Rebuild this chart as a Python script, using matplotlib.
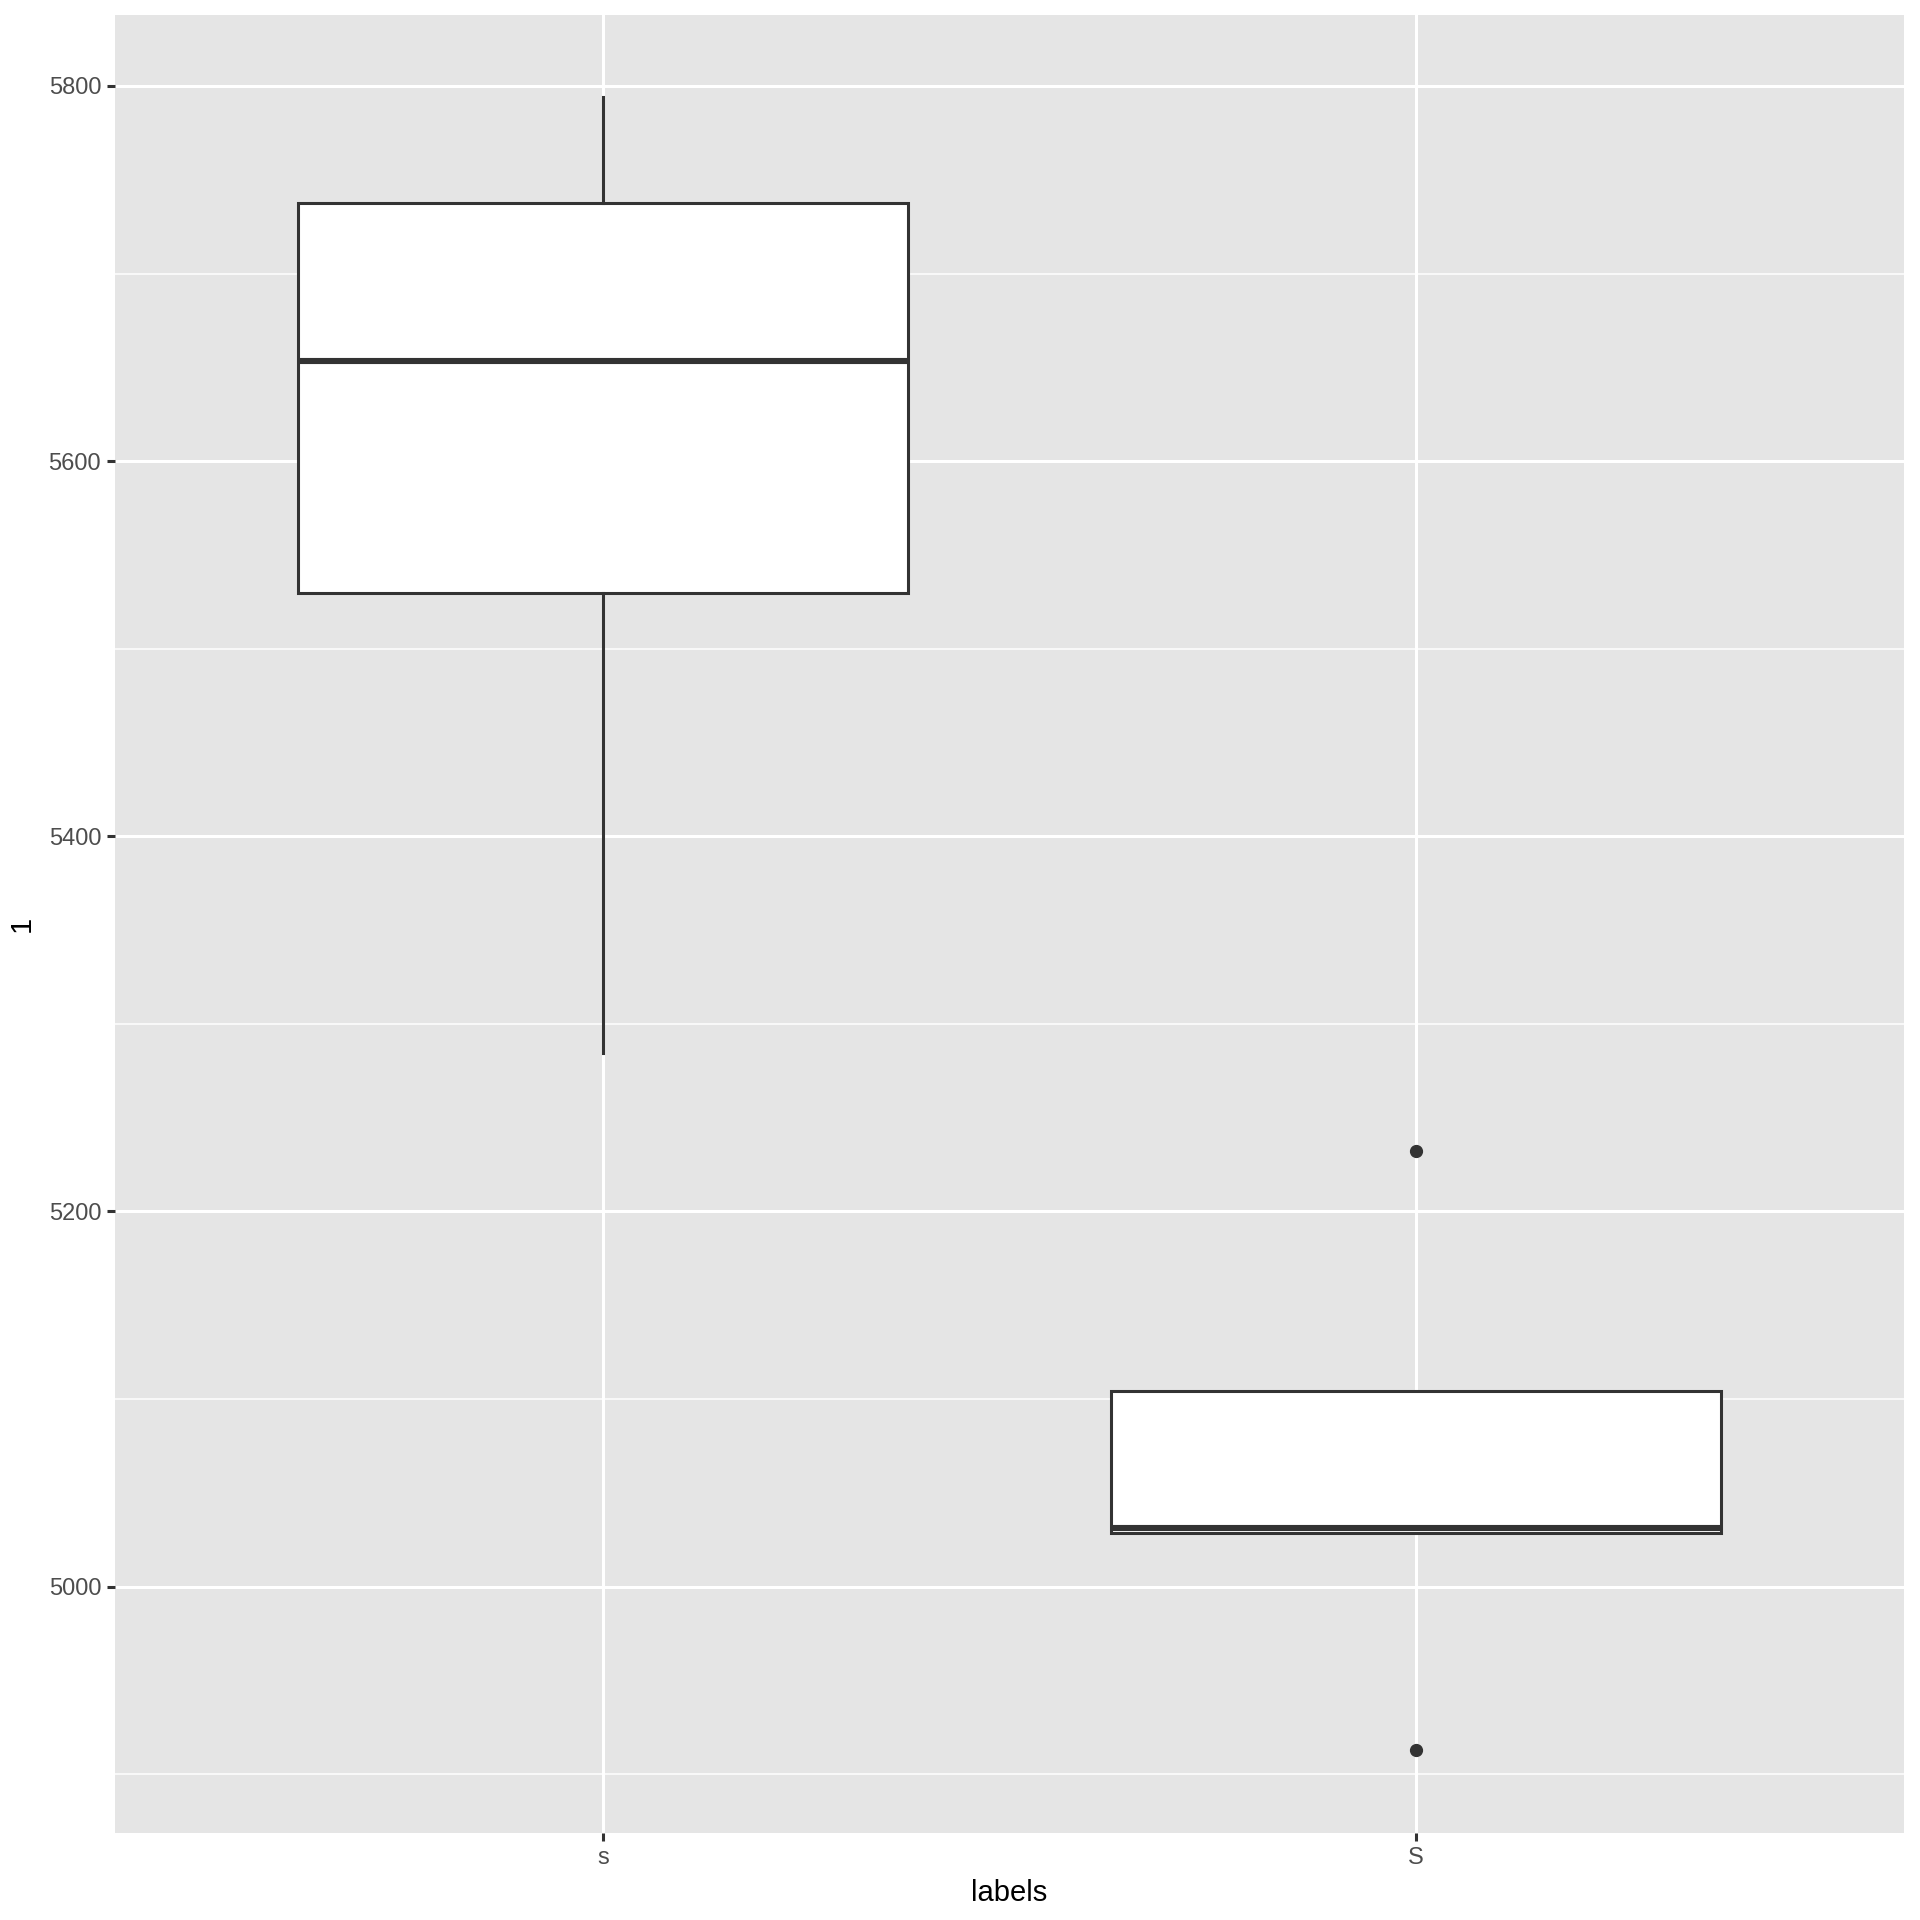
import matplotlib
matplotlib.use("Agg")
import matplotlib.pyplot as plt

# box statistics
categories = ["s", "S"]
whisker_low = [5284.5, 5028.8]
q1 = [5529.9, 5028.8]
median = [5653.6, 5031.4]
q3 = [5737.8, 5104.5]
whisker_high = [5794.0, 5104.5]
outliers = [[], [5232.3, 4913.0]]

y_ticks = [5000, 5200, 5400, 5600, 5800]
y_minor = [4900, 5100, 5300, 5500, 5700]

plt.rcParams["font.family"] = ["Liberation Sans", "DejaVu Sans"]

fig = plt.figure(figsize=(19.2, 19.2), dpi=100)
W = H = 1920
ax = fig.add_axes([115 / W, 1 - 1833 / H, (1904 - 115) / W, (1833 - 15) / H])
ax.set_facecolor("#E5E5E5")
for sp in ax.spines.values():
    sp.set_visible(False)

stats = []
for i, name in enumerate(categories):
    stats.append(dict(label=name, whislo=whisker_low[i], q1=q1[i], med=median[i],
                      q3=q3[i], whishi=whisker_high[i], fliers=outliers[i]))

positions = list(range(1, len(categories) + 1))
ax.bxp(stats, positions=positions, widths=0.75, patch_artist=True, showcaps=False,
       boxprops=dict(facecolor="white", edgecolor="#333333", linewidth=2.2),
       medianprops=dict(color="#333333", linewidth=4.4, solid_capstyle="butt"),
       whiskerprops=dict(color="#333333", linewidth=2.2),
       flierprops=dict(marker="o", markerfacecolor="#333333", markeredgecolor="#333333",
                       markersize=8.5, linestyle="none"),
       zorder=3)

ax.set_xlim(0.4, 2.6)
ax.set_ylim(4868.7, 5837.8)
ax.set_xticks(positions)
ax.set_xticklabels(categories)
ax.set_yticks(y_ticks)
ax.set_yticks(y_minor, minor=True)

ax.grid(which="major", color="white", linewidth=2.2, zorder=0)
ax.grid(which="minor", axis="y", color="white", linewidth=1.1, zorder=0)
ax.set_axisbelow(True)

ax.tick_params(axis="both", which="major", length=6, width=2.2, color="#333333",
               labelcolor="#4D4D4D", labelsize=17, pad=4)
ax.tick_params(axis="both", which="minor", length=0)

ax.set_xlabel("labels", fontsize=21, color="black", labelpad=7)
ax.set_ylabel("1", fontsize=21, color="black", labelpad=9)

fig.savefig("out.png", dpi=100, facecolor="white")
